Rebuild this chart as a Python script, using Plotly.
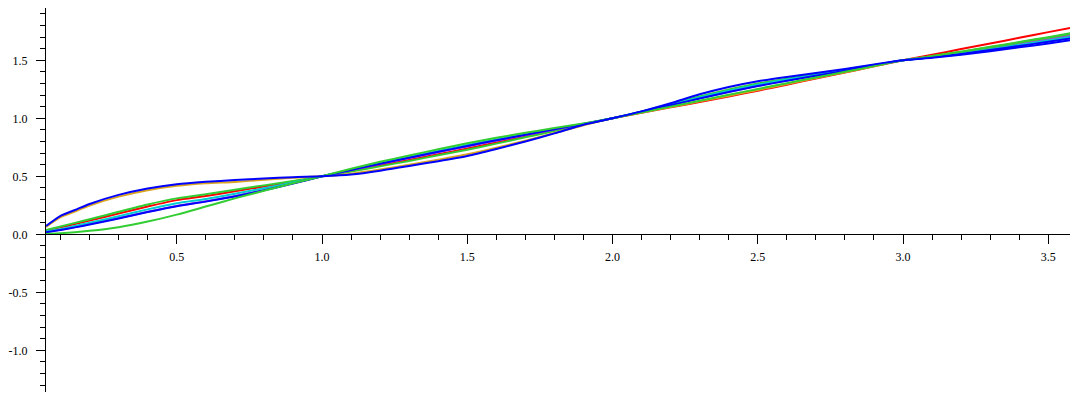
import plotly.graph_objects as go

x = [0.05, 0.1, 0.15, 0.2, 0.3, 0.4, 0.5, 0.6, 0.7, 0.8, 0.9, 1.0,
     1.1, 1.2, 1.3, 1.4, 1.5, 1.6, 1.7, 1.8, 1.9, 2.0,
     2.1, 2.2, 2.3, 2.4, 2.5, 2.6, 2.7, 2.8, 2.9, 3.0,
     3.1, 3.2, 3.3, 3.4, 3.5, 3.59]

red = [0.033, 0.06, 0.088, 0.118, 0.18, 0.24, 0.295, 0.33, 0.372, 0.412, 0.455, 0.5,
       0.546, 0.593, 0.642, 0.69, 0.74, 0.791, 0.843, 0.896, 0.948, 1.0,
       1.048, 1.095, 1.141, 1.189, 1.238, 1.29, 1.343, 1.395, 1.448, 1.5,
       1.548, 1.597, 1.645, 1.694, 1.743, 1.787]

green_upper = [0.037, 0.068, 0.099, 0.13, 0.195, 0.258, 0.31, 0.345, 0.385, 0.422, 0.46, 0.5,
               0.541, 0.586, 0.633, 0.681, 0.73, 0.782, 0.836, 0.891, 0.947, 1.0,
               1.06, 1.122, 1.188, 1.248, 1.3, 1.342, 1.38, 1.419, 1.46, 1.5,
               1.537, 1.575, 1.616, 1.658, 1.70, 1.74]

gold = [0.064, 0.148, 0.197, 0.248, 0.325, 0.38, 0.418, 0.44, 0.452, 0.47, 0.487, 0.5,
        0.523, 0.558, 0.599, 0.643, 0.69, 0.746, 0.808, 0.873, 0.941, 1.0,
        1.049, 1.098, 1.146, 1.195, 1.245, 1.296, 1.347, 1.398, 1.449, 1.5,
        1.534, 1.57, 1.609, 1.65, 1.69, 1.728]

magenta = [0.02, 0.04, 0.063, 0.088, 0.14, 0.195, 0.245, 0.285, 0.33, 0.382, 0.44, 0.5,
           0.554, 0.606, 0.657, 0.708, 0.758, 0.807, 0.856, 0.904, 0.951, 1.0,
           1.056, 1.114, 1.173, 1.229, 1.28, 1.326, 1.368, 1.411, 1.456, 1.5,
           1.531, 1.565, 1.602, 1.641, 1.68, 1.717]

blue_thin = [0.018, 0.037, 0.06, 0.085, 0.137, 0.192, 0.242, 0.282, 0.327, 0.379, 0.437, 0.5,
             0.555, 0.608, 0.66, 0.711, 0.762, 0.811, 0.858, 0.905, 0.952, 1.0,
             1.056, 1.113, 1.171, 1.227, 1.278, 1.324, 1.367, 1.411, 1.456, 1.5,
             1.526, 1.555, 1.588, 1.624, 1.66, 1.695]

cyan = [0.025, 0.045, 0.073, 0.1, 0.156, 0.215, 0.268, 0.305, 0.35, 0.397, 0.447, 0.5,
        0.559, 0.614, 0.667, 0.719, 0.77, 0.818, 0.864, 0.909, 0.953, 1.0,
        1.058, 1.118, 1.18, 1.238, 1.29, 1.334, 1.374, 1.415, 1.458, 1.5,
        1.528, 1.56, 1.595, 1.633, 1.67, 1.706]

green_lower = [0.002, 0.01, 0.018, 0.03, 0.062, 0.11, 0.17, 0.24, 0.31, 0.375, 0.44, 0.5,
               0.566, 0.625, 0.68, 0.733, 0.785, 0.832, 0.875, 0.916, 0.955, 1.0,
               1.051, 1.101, 1.152, 1.203, 1.253, 1.303, 1.352, 1.401, 1.451, 1.5,
               1.535, 1.573, 1.612, 1.654, 1.695, 1.734]

blue_thick = [0.072, 0.16, 0.21, 0.262, 0.34, 0.395, 0.432, 0.453, 0.468, 0.481, 0.493, 0.5,
              0.515, 0.548, 0.59, 0.63, 0.675, 0.735, 0.80, 0.87, 0.945, 1.0,
              1.06, 1.13, 1.207, 1.27, 1.32, 1.357, 1.39, 1.425, 1.465, 1.5,
              1.522, 1.548, 1.578, 1.612, 1.645, 1.678]

x_tickvals = [0.5, 1.0, 1.5, 2.0, 2.5, 3.0, 3.5]
x_ticktext = ["0.5", "1.0", "1.5", "2.0", "2.5", "3.0", "3.5"]
y_tickvals = [-1.0, -0.5, 0.0, 0.5, 1.0, 1.5]
y_ticktext = ["-1.0", "-0.5", "0.0", "0.5", "1.0", "1.5"]

series = [
    (red, "#FF0000"),
    (green_upper, "#32CD32"),
    (gold, "#DAA520"),
    (magenta, "#A83CE6"),
    (cyan, "#00CED1"),
    (blue_thin, "#0000FF"),
    (green_lower, "#32CD32"),
    (blue_thick, "#0000FF"),
]

fig = go.Figure()
for ys, col in series:
    fig.add_trace(go.Scatter(x=x, y=ys, mode="lines",
                             line=dict(color=col, width=2, shape="spline", smoothing=0.6),
                             hoverinfo="skip", showlegend=False))

xr = [0.05, 3.585]
yr = [-1.359, 1.951]
pos0 = (0 - yr[0]) / (yr[1] - yr[0])

fig.update_layout(
    width=1070, height=384,
    margin=dict(l=38, r=5, t=0, b=0),
    paper_bgcolor="white", plot_bgcolor="white",
    font=dict(family="Liberation Serif", size=12, color="black"),
    xaxis=dict(range=xr, anchor="free", position=pos0, side="bottom",
               automargin=False,
               showline=True, linecolor="black", linewidth=1,
               showgrid=False, zeroline=False,
               tickmode="array", tickvals=x_tickvals, ticktext=x_ticktext,
               ticks="outside", ticklen=9, tickcolor="black", tickwidth=1,
               ticklabelstandoff=2,
               minor=dict(ticks="outside", ticklen=5, dtick=0.1, tick0=0,
                          tickcolor="black", showgrid=False)),
    yaxis=dict(range=yr, automargin=False,
               showline=True, linecolor="black", linewidth=1,
               showgrid=False, zeroline=False,
               tickmode="array", tickvals=y_tickvals, ticktext=y_ticktext,
               ticks="outside", ticklen=9, tickcolor="black", tickwidth=1,
               ticklabelstandoff=6,
               minor=dict(ticks="outside", ticklen=5, dtick=0.1, tick0=0,
                          tickcolor="black", showgrid=False)),
)

fig.write_html("out.html")
